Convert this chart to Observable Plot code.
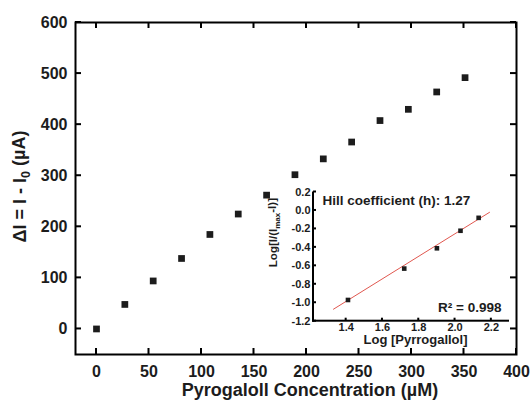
<!DOCTYPE html>
<html><head><meta charset="utf-8">
<script src="https://cdn.jsdelivr.net/npm/d3@7"></script>
<script src="https://cdn.jsdelivr.net/npm/@observablehq/plot@0.6"></script>
<style>
body{margin:0;background:#fff}
#wrap{position:relative;width:532px;height:402px;overflow:hidden}
#inset{position:absolute;left:250px;top:176px}
</style>
</head><body>
<div id="wrap"><div id="main"></div><div id="inset"></div></div>
<script>
// Main chart data
const concentration = [0, 27, 54, 81, 108, 135, 162, 189, 216, 243, 270, 297, 324, 351];
const deltaI = [0, 48, 94, 138, 185, 225, 262, 302, 333, 366, 408, 430, 464, 492];
const xTicks = [0, 50, 100, 150, 200, 250, 300, 350, 400];
const yTicks = [0, 100, 200, 300, 400, 500, 600];
const xDomain = [-20, 400];
const yDomain = [-50, 600];

// Inset (Hill plot) data
const logConc = [1.41, 1.72, 1.90, 2.03, 2.13];
const logRatio = [-0.97, -0.63, -0.41, -0.22, -0.08];
const fitX = [1.33, 2.19];
const fitY = [-1.07, -0.02];
const insetXTicks = [1.4, 1.6, 1.8, 2.0, 2.2];
const insetYTicks = [0.2, 0.0, -0.2, -0.4, -0.6, -0.8, -1.0, -1.2];
const insetXDomain = [1.22, 2.3];
const insetYDomain = [-1.2, 0.2];

const ink = "#1c1c1c";
const line = "black";
const font = "'Liberation Sans', Arial, sans-serif";
const blank = () => "";

// filled tick rectangles (inward ticks)
const tickRectsX = (ticks, yEdge, len, up) => Plot.rect(ticks, {x1: d => d, x2: d => d, y1: yEdge, y2: yEdge, insetLeft: -1, insetRight: -1, insetTop: up ? -len : 0, insetBottom: up ? 0 : -len, fill: line});
const tickRectsY = (ticks, xEdge, len, right) => Plot.rect(ticks, {y1: d => d, y2: d => d, x1: xEdge, x2: xEdge, insetTop: -1, insetBottom: -1, insetRight: right ? -len : 0, insetLeft: right ? 0 : -len, fill: line});

const main = Plot.plot({
  width: 532, height: 402,
  marginLeft: 75, marginRight: 16, marginTop: 22, marginBottom: 48,
  x: {domain: xDomain},
  y: {domain: yDomain},
  style: {fontFamily: font, fontSize: "16px", fontWeight: "bold", color: line, background: "transparent"},
  marks: [
    Plot.frame({stroke: line, strokeWidth: 2}),
    tickRectsX(xTicks, yDomain[0], 6, true),
    tickRectsX(xTicks, yDomain[1], 6, false),
    tickRectsY(yTicks, xDomain[0], 6, true),
    tickRectsY(yTicks, xDomain[1], 6, false),
    Plot.axisX(xTicks, {anchor: "bottom", tickSize: 0, tickPadding: 11, fill: ink, label: null}),
    Plot.axisY(yTicks, {anchor: "left", tickSize: 0, tickPadding: 8, fill: ink, label: null}),
    Plot.dot(concentration, {x: concentration, y: deltaI, symbol: "square", r: 3.8, fill: ink, stroke: null}),
    Plot.text(["Pyrogaloll Concentration (µM)"], {frameAnchor: "bottom", textAnchor: "middle", lineAnchor: "top", dx: 14, dy: 29, fill: ink, fontSize: 18, fontWeight: "bold"}),
    Plot.text(["YTITLE"], {frameAnchor: "left", textAnchor: "middle", lineAnchor: "middle", rotate: -90, dx: -55, dy: -2, fill: ink, fontSize: 18, fontWeight: "bold"})
  ]
});
document.getElementById("main").appendChild(main);

const inset = Plot.plot({
  width: 270, height: 180,
  marginLeft: 63, marginRight: 11, marginTop: 15.5, marginBottom: 35.3,
  x: {domain: insetXDomain},
  y: {domain: insetYDomain},
  style: {fontFamily: font, fontSize: "11px", fontWeight: "bold", color: line, background: "transparent", overflow: "visible"},
  marks: [
    // axis lines as thin filled rectangles
    Plot.rect([0], {x1: insetXDomain[0], x2: insetXDomain[0], y1: insetYDomain[0], y2: insetYDomain[1], insetLeft: -1, insetRight: -1, insetBottom: -1, fill: line}),
    Plot.rect([0], {x1: insetXDomain[0], x2: insetXDomain[1], y1: insetYDomain[0], y2: insetYDomain[0], insetTop: -1, insetBottom: -1, insetLeft: -1, fill: line}),
    tickRectsX(insetXTicks, insetYDomain[0], 3, true),
    tickRectsY(insetYTicks, insetXDomain[0], 3, true),
    Plot.axisX(insetXTicks, {anchor: "bottom", tickSize: 0, tickPadding: 2, fill: ink, tickFormat: d => d.toFixed(1), label: null}),
    Plot.axisY(insetYTicks, {anchor: "left", tickSize: 0, tickPadding: 3, fill: ink, tickFormat: d => d.toFixed(1), label: null}),
    Plot.line(fitX, {x: fitX, y: fitY, stroke: "#e0574f", strokeWidth: 1}),
    Plot.dot(logConc, {x: logConc, y: logRatio, symbol: "square", r: 2.6, fill: ink, stroke: null}),
    Plot.text(["Hill coefficient (h): 1.27"], {frameAnchor: "top-left", textAnchor: "start", lineAnchor: "bottom", dx: 9, dy: 12.5, fill: ink, fontSize: 13.5, fontWeight: "bold"}),
    Plot.text(["R² = 0.998"], {frameAnchor: "bottom-right", textAnchor: "end", lineAnchor: "bottom", dx: -8, dy: -9, fill: ink, fontSize: 13.5, fontWeight: "bold"}),
    Plot.text(["Log [Pyrrogallol]"], {frameAnchor: "bottom", textAnchor: "middle", lineAnchor: "top", dx: 4, dy: 14, fill: ink, fontSize: 13, fontWeight: "bold"}),
    Plot.text(["INSETYTITLE"], {frameAnchor: "left", textAnchor: "middle", lineAnchor: "middle", rotate: -90, dx: -40, dy: -24, fill: ink, fontSize: 11.5, fontWeight: "bold"})
  ]
});
document.getElementById("inset").appendChild(inset);

// Subscripts in titles
function withSub(svg, key, before, sub, after) {
  d3.select(svg).selectAll("text").filter(function() { return this.textContent === key; }).each(function() {
    const t = d3.select(this);
    t.text(null);
    t.append("tspan").text(before);
    t.append("tspan").attr("dy", "0.3em").attr("font-size", "70%").text(sub);
    t.append("tspan").attr("dy", "-0.3em").text(after);
  });
}
withSub(main, "YTITLE", "ΔI = I - I", "0", " (µA)");
withSub(inset, "INSETYTITLE", "Log[I/(I", "max", "-I)]");
</script>
</body></html>
